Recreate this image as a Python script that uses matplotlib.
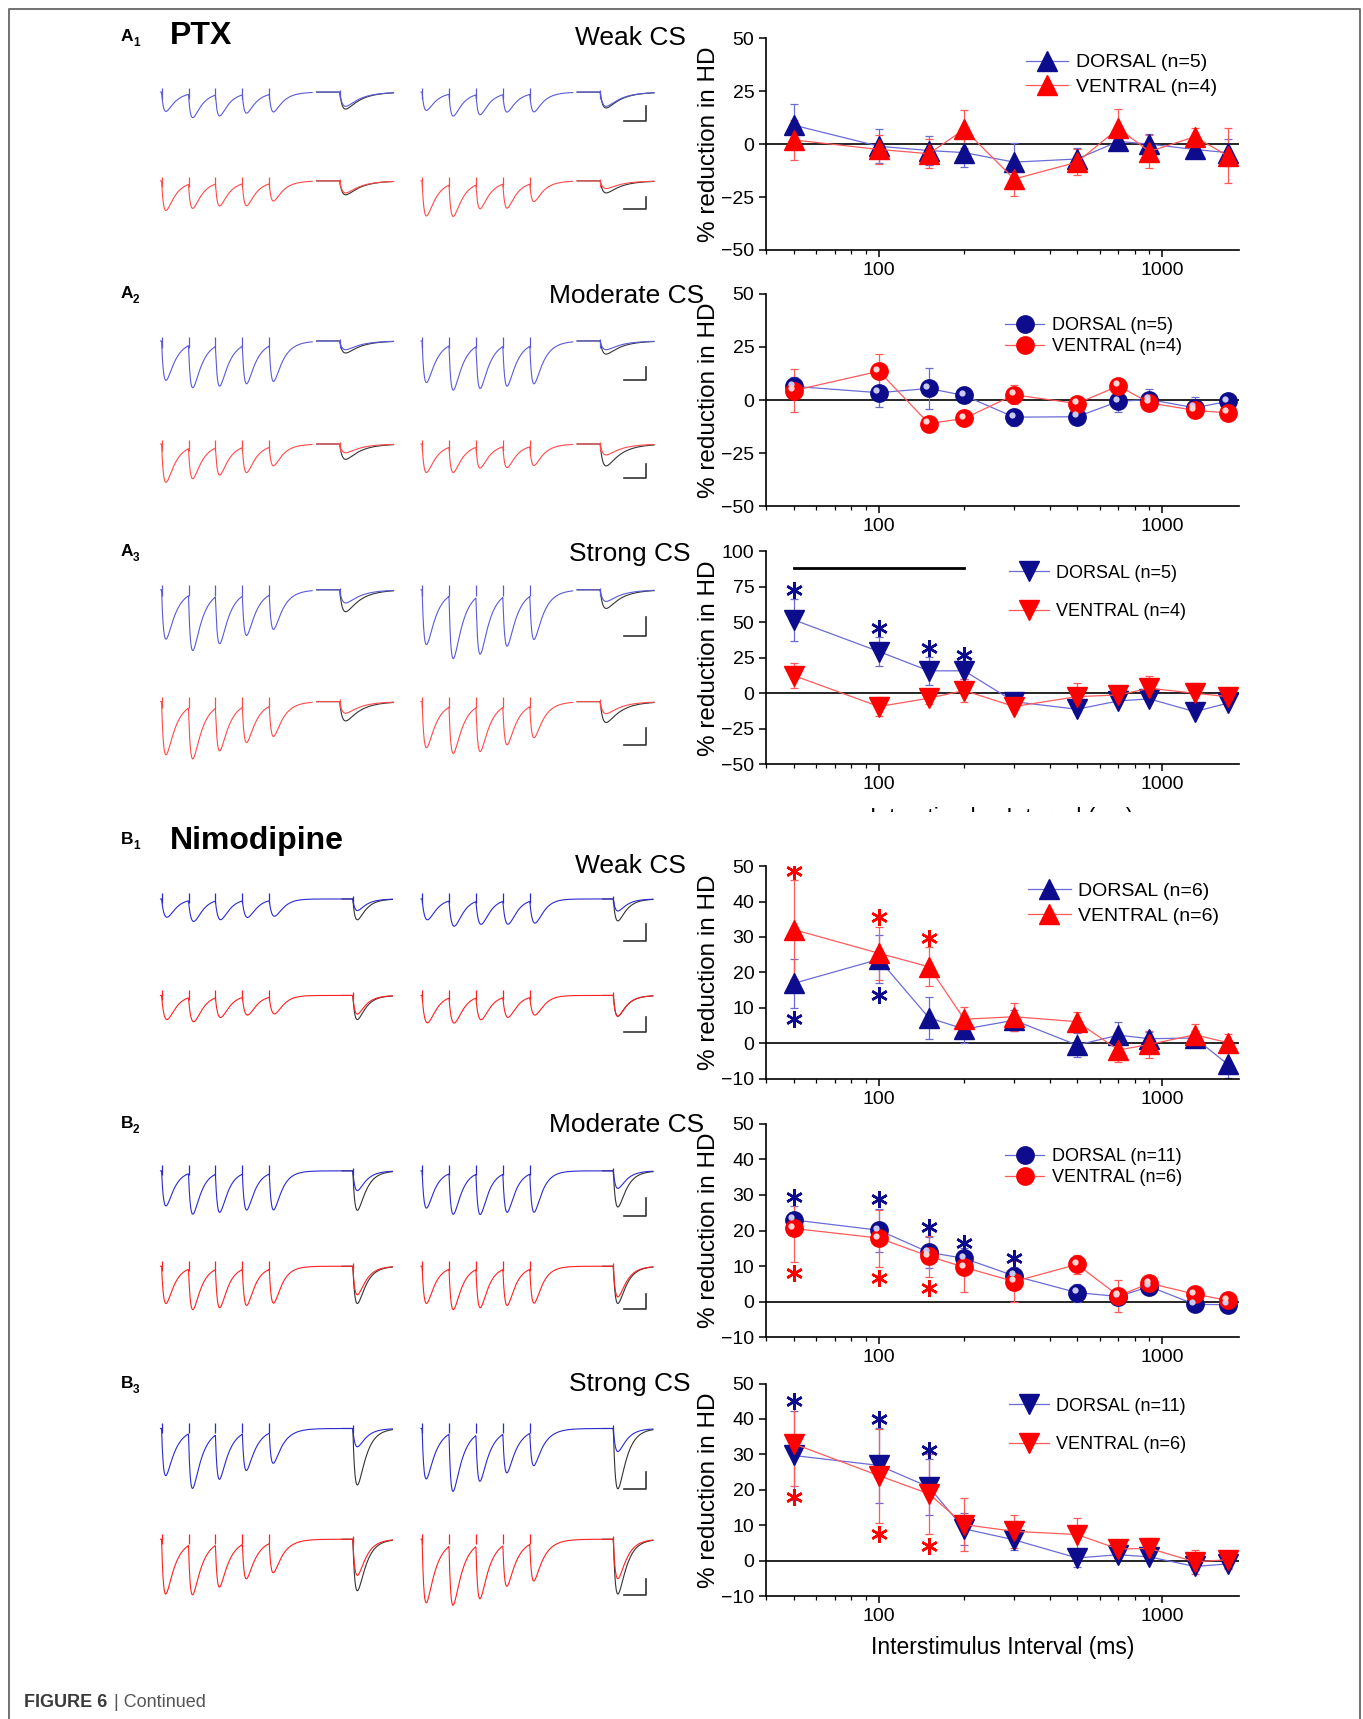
import numpy as np
import matplotlib
matplotlib.use("Agg")
import matplotlib.pyplot as plt
from matplotlib.transforms import offset_copy
from matplotlib.patches import Rectangle

plt.rcParams['font.family'] = ['Liberation Sans', 'DejaVu Sans']

# ---------------- data ----------------
isi = [50, 100, 150, 200, 300, 500, 700, 900, 1300, 1700]

# A1  PTX weak CS
a1_d = [9, -1, -3, -4, -8.5, -7, 1.3, 0, -2.5, -4]
a1_d_err = [10, 8, 7, 7, 9, 5, 4, 5, 4, 6.5]
a1_v = [2, -2.5, -4.5, 7, -16.5, -8.5, 7.5, -3.5, 3.5, -5.5]
a1_v_err = [9.5, 7, 7, 9, 8, 6, 9, 8, 4, 13]

# A2  PTX moderate CS
a2_d = [6.5, 3.5, 5.5, 2.2, -8, -7.8, -0.6, 0.3, -3.6, -0.6]
a2_d_err = [4.5, 6.5, 9.5, 2, 4, 3, 5, 5, 5, 3]
a2_v = [4.5, 13.6, -11, -8.6, 2.5, -1.6, 6.7, -1.3, -4.8, -6]
a2_v_err = [10, 8, 2, 2, 4.5, 3, 3, 3, 3, 2]

# A3  PTX strong CS
a3_d = [51.8, 29.4, 15.8, 15.8, -6, -11.3, -5.4, -4, -13, -7]
a3_d_err = [15, 10, 10, 6, 3, 2, 2, 2, 2, 2]
a3_v = [12.5, -9.4, -3.5, 1.9, -9.4, -2.4, -1.2, 3.5, 0, -2.4]
a3_v_err = [8.5, 6.5, 4, 8, 2, 9.5, 2, 8.5, 7, 2]
a3_star_d_x = [50, 100, 150, 200]
a3_star_d_y = [73, 46, 32, 27]
a3_bar_x = [50, 200]
a3_bar_y = 88

# B1  nimodipine weak CS
b1_d = [16.9, 23.7, 7.2, 4, 6.5, -0.5, 2.3, 1.3, 1.5, -5.9]
b1_d_err = [6.8, 6.8, 6, 4, 3, 3.5, 3.7, 2, 2, 4]
b1_v = [32.1, 25.4, 21.6, 6.8, 7.5, 6.1, -1.9, -0.3, 2.4, 0.2]
b1_v_err = [14, 7.5, 5.5, 3.5, 4, 2.8, 3.5, 3.8, 3, 2.5]
b1_star_d_x = [50, 100]
b1_star_d_y = [6.8, 13.5]
b1_star_v_x = [50, 100, 150]
b1_star_v_y = [48.6, 35.7, 29.8]

# B2  nimodipine moderate CS
b2_d = [23, 20.1, 13.9, 12.2, 7.3, 2.6, 1.5, 4.3, -0.7, -0.8]
b2_d_err = [4, 6, 4.3, 3, 2.5, 2.5, 2.5, 1, 1, 1]
b2_v = [20.6, 17.9, 12.8, 9.7, 5.7, 10.5, 1.7, 5.2, 2.2, 0.4]
b2_v_err = [9.5, 8, 5.7, 7, 5.7, 2.7, 4.5, 1, 1, 1]
b2_star_d_x = [50, 100, 150, 200, 300]
b2_star_d_y = [29.5, 28.8, 21, 16.6, 12.3]
b2_star_v_x = [50, 100, 150]
b2_star_v_y = [8.1, 6.7, 3.9]

# B3  nimodipine strong CS
b3_d = [29.7, 26.9, 20.8, 9, 5.9, 0.8, 1.7, 1.1, -1.6, -0.9]
b3_d_err = [12.5, 10.5, 8, 4.5, 3, 2.5, 1, 1, 1, 1]
b3_v = [33, 24, 18.9, 10.2, 8.3, 7.4, 3.3, 3.5, -0.3, 0.3]
b3_v_err = [12, 13.3, 11.3, 7.5, 4.6, 4.7, 2.6, 3, 3.3, 2.5]
b3_star_d_x = [50, 100, 150]
b3_star_d_y = [45, 40, 31.3]
b3_star_v_x = [50, 100, 150]
b3_star_v_y = [18, 7.5, 4.2]

# example traces: trough depths of the 5 train responses, then (test, control)
# order: blue left, blue right, red left, red right
a1_train = [[17.6, 22, 20, 17.6, 16.7], [16.7, 20.6, 19, 16.7, 16.7],
            [27, 23, 21, 21, 16.7], [32, 30, 23, 23, 17]]
a1_test = [[13, 15.5], [13, 14.5], [11, 12.7], [7, 11]]
a2_train = [[36, 40, 38, 36, 34], [38, 42, 40, 38, 36],
            [35, 29, 26, 24, 18], [26, 24, 20, 20, 18]]
a2_test = [[8, 11], [8, 12], [8, 14], [10, 20]]
a3_train = [[45, 52, 45, 38, 33], [50, 59, 54, 47, 41.5],
            [48.5, 48.5, 41, 34, 29], [42, 44, 42, 36, 30]]
a3_test = [[12, 20], [10.6, 17], [10.6, 17.6], [11, 19]]
b1_train = [[16.7, 19.7, 18, 16, 15], [19, 24, 22, 22, 21],
            [22, 23, 19, 17, 16], [25, 24, 21, 19, 17]]
b1_test = [[10.6, 19], [11, 20], [17, 22], [19, 19]]
b2_train = [[32, 38, 36, 34, 34], [34, 38, 38, 36, 36],
            [34, 38, 36, 34, 32], [34, 38, 36, 34, 32]]
b2_test = [[18, 36], [16, 33], [26, 34], [28, 34]]
b3_train = [[43, 51.5, 42.4, 35, 29], [46, 54, 44, 37, 31],
            [50, 47, 40, 33, 28], [58, 56, 50, 39, 35]]
b3_test = [[16.7, 51.5], [21, 55], [33, 47], [36, 50]]

# ---------------- layout (reference pixel frame) ----------------
W, H = 1240.0, 1568.0
fig = plt.figure(figsize=(13.63, 17.19), dpi=100)
bg = fig.add_axes([0, 0, 1, 1])
bg.set_xlim(0, W)
bg.set_ylim(H, 0)
bg.axis('off')

BLUE_MK = '#0c0c8c'
BLUE_LN = '#6b6bd6'
RED_MK = '#ff0000'
RED_LN = '#ff5a5a'

# outer frame (open at bottom)
bg.plot([8, 8, 1237, 1237], [H, 8, 8, H], color='#666666', lw=1.3)


def kern(s, r, d):
    s = np.clip(s, 0, None)
    k = np.exp(-s / d) - np.exp(-s / r)
    g = np.linspace(0, 80, 4000)
    return k / (np.exp(-g / d) - np.exp(-g / r)).max()


def draw_train_A(x0, base, depths, test, col):
    # train segment
    pulses = x0 + 24.5 * np.arange(5)
    t = np.linspace(x0 - 1, x0 + 137, 700)
    v = np.full_like(t, base)
    for p, dp in zip(pulses, depths):
        v += dp * kern(t - p, 2.2, 8.5)
    bg.plot(t, v, color=col, lw=0.8)
    bg.vlines(pulses, base - 4, base + 6, color=col, lw=0.9)
    # test segment
    ts = np.linspace(x0 + 141, x0 + 211, 400)
    ta = x0 + 162
    bg.plot(ts, base + test[1] * kern(ts - ta, 2.8, 13), color='#333333', lw=0.8)
    bg.plot(ts, base + test[0] * kern(ts - ta, 2.8, 13), color=col, lw=0.8)
    bg.vlines([ta], base - 2, base + 6, color=col, lw=0.9)


def draw_train_B(x0, base, depths, test, col, r, d):
    pulses = x0 + 24.5 * np.arange(5)
    ta = x0 + 174
    t = np.linspace(x0 - 1, x0 + 210, 1000)
    v = np.full_like(t, base)
    for p, dp in zip(pulses, depths):
        v += dp * kern(t - p, r, d)
    tb = t[t > ta - 10]
    bg.plot(tb, base + test[1] * kern(tb - ta, 2.5, 7.5), color='#333333', lw=0.8)
    v += test[0] * kern(t - ta, 2.5, 7.5)
    bg.plot(t, v, color=col, lw=0.8)
    bg.vlines(pulses, base - 5, base + 4, color=col, lw=0.9)
    bg.vlines([ta], base - 3, base + 4, color=col, lw=0.9)


def scale_bar(x, y0, y1, w):
    bg.plot([x - w, x, x], [y1, y1, y0], color='#333333', lw=1.2)


trace_sets = [
    (a1_train, a1_test, 84, 165, 'A', (97, 110), (180, 191)),
    (a2_train, a2_test, 311, 405, 'A', (335, 347), (423, 436)),
    (a3_train, a3_test, 538, 640, 'A', (563, 580), (664, 680)),
    (b1_train, b1_test, 820, 908, 'B1', (843, 858), (928, 941)),
    (b2_train, b2_test, 1068, 1155, 'B2', (1093, 1109), (1180, 1194)),
    (b3_train, b3_test, 1303, 1404, 'B3', (1343, 1358), (1440, 1455)),
]
kin = {'B1': (4.0, 6.0), 'B2': (2.5, 7.0), 'B3': (2.0, 8.5)}
for trains, tests, yb, yr, kind, sb1, sb2 in trace_sets:
    for i, (x0, base, col) in enumerate([(147, yb, '#5a5ad8'), (384, yb, '#5a5ad8'),
                                          (147, yr, '#ff4a4a'), (384, yr, '#ff4a4a')]):
        if kind == 'A':
            draw_train_A(x0, base, trains[i], tests[i], col)
        else:
            c = '#2a2ad0' if i < 2 else '#ff2020'
            draw_train_B(x0, base, trains[i], tests[i], c, *kin[kind])
    scale_bar(588, sb1[0], sb1[1], 20)
    scale_bar(588, sb2[0], sb2[1], 20)

# panel labels and titles
for let, sub, y in [('A', '1', 33), ('A', '2', 268), ('A', '3', 503),
                    ('B', '1', 766), ('B', '2', 1025), ('B', '3', 1262)]:
    bg.text(110, y, let, fontsize=12.5, fontweight='bold', ha='left', va='center')
    bg.text(121, y + 6, sub, fontsize=8.5, fontweight='bold', ha='left', va='center')
bg.text(155, 33, 'PTX', fontsize=23, fontweight='bold', va='center')
bg.text(155, 767, 'Nimodipine', fontsize=23, fontweight='bold', va='center')
for name, x, y in [('Weak CS', 624, 35), ('Moderate CS', 641, 270), ('Strong CS', 628, 505),
                   ('Weak CS', 624, 790), ('Moderate CS', 641, 1026), ('Strong CS', 628, 1262)]:
    bg.text(x, y, name, fontsize=19, ha='right', va='center')

# axis title under A3, cut off by the panel below (only the top shows)
bg.text(911, 736, 'Interstimulus Interval (ms)', fontsize=16.5, ha='center', va='top', zorder=1)
bg.add_patch(Rectangle((700, 740.5), 500, 30, facecolor='white', edgecolor='none', zorder=2))

bg.text(22, 1553, 'FIGURE 6', fontsize=13, fontweight='bold', color='#3a3a3a', va='center')
bg.text(104, 1553, '| Continued', fontsize=13, color='#555555', va='center')


# ---------------- plots ----------------
def make_ax(top, bottom, ylim, yticks):
    ax = fig.add_axes([697 / W, 1 - bottom / H, (1127 - 697) / W, (bottom - top) / H])
    ax.set_facecolor('none')
    ax.set_xscale('log')
    ax.set_xlim(40, 1860)
    ax.set_ylim(*ylim)
    ax.set_yticks(yticks)
    ax.set_xticks([100, 1000])
    ax.set_xticklabels(['100', '1000'])
    for s in ['top', 'right']:
        ax.spines[s].set_visible(False)
    for s in ['left', 'bottom']:
        ax.spines[s].set_linewidth(1.2)
    ax.tick_params(which='major', direction='out', length=5, width=1.1, labelsize=14)
    ax.tick_params(which='minor', direction='out', length=3, width=0.9)
    ax.axhline(0, color='black', lw=1.2, zorder=1)
    ax.set_ylabel('% reduction in HD', fontsize=17.5, labelpad=1)
    return ax


def series(ax, y, err, marker, mk, ln, label, ms=15):
    ax.errorbar(isi, y, yerr=err, fmt='none', ecolor=ln, elinewidth=0.9,
                capsize=3, capthick=0.9, zorder=2)
    h, = ax.plot(isi, y, marker=marker, color=ln, mfc=mk, mec=mk, ms=ms, lw=0.9,
                 label=label, zorder=3)
    return h


def sphere_series(ax, y, err, mk, hi, ln, label):
    h = series(ax, y, err, 'o', mk, ln, label, ms=12.5)
    tr = offset_copy(ax.transData, fig=fig, x=-1.8, y=1.8, units='points')
    ax.plot(isi, y, 'o', ms=4.5, color=hi, mec='none', transform=tr, zorder=4)
    return h


def stars(ax, xs, ys, col):
    ax.plot(xs, ys, ls='none', marker=(6, 2, 0), ms=12, mew=1.8, color=col, zorder=5)


def legend(ax, handles, labels, x, y, fs, spacing):
    ax.legend(handles, labels, loc='upper left', bbox_to_anchor=(x / W, 1 - y / H),
              bbox_transform=fig.transFigure, frameon=False, fontsize=fs,
              handlelength=2.2, handletextpad=0.4, borderpad=0, borderaxespad=0,
              labelspacing=spacing)


ticks_a = [-50, -25, 0, 25, 50]
ticks_b = [-10, 0, 10, 20, 30, 40, 50]

ax1 = make_ax(35, 228, (-50, 50), ticks_a)
h1 = series(ax1, a1_d, a1_d_err, '^', BLUE_MK, BLUE_LN, 'DORSAL (n=5)')
h2 = series(ax1, a1_v, a1_v_err, '^', RED_MK, RED_LN, 'VENTRAL (n=4)')
legend(ax1, [h1, h2], ['DORSAL (n=5)', 'VENTRAL (n=4)'], 933, 49, 14, 0.35)

ax2 = make_ax(268, 462, (-50, 50), ticks_a)
h1 = sphere_series(ax2, a2_d, a2_d_err, BLUE_MK, '#c8c8f0', BLUE_LN, 'DORSAL (n=5)')
h2 = sphere_series(ax2, a2_v, a2_v_err, RED_MK, '#ffd6d6', RED_LN, 'VENTRAL (n=4)')
legend(ax2, [h1, h2], ['DORSAL (n=5)', 'VENTRAL (n=4)'], 914, 289, 13, 0.25)

ax3 = make_ax(503, 697, (-50, 100), [-50, -25, 0, 25, 50, 75, 100])
ax3.plot(a3_bar_x, [a3_bar_y, a3_bar_y], color='black', lw=2)
h1 = series(ax3, a3_d, a3_d_err, 'v', BLUE_MK, BLUE_LN, 'DORSAL (n=5)')
h2 = series(ax3, a3_v, a3_v_err, 'v', RED_MK, RED_LN, 'VENTRAL (n=4)')
stars(ax3, a3_star_d_x, a3_star_d_y, BLUE_MK)
legend(ax3, [h1, h2], ['DORSAL (n=5)', 'VENTRAL (n=4)'], 918, 515, 13, 1.2)

bx1 = make_ax(790, 984, (-10, 50), ticks_b)
h1 = series(bx1, b1_d, b1_d_err, '^', BLUE_MK, BLUE_LN, 'DORSAL (n=6)')
h2 = series(bx1, b1_v, b1_v_err, '^', RED_MK, RED_LN, 'VENTRAL (n=6)')
stars(bx1, b1_star_d_x, b1_star_d_y, BLUE_MK)
stars(bx1, b1_star_v_x, b1_star_v_y, RED_MK)
legend(bx1, [h1, h2], ['DORSAL (n=6)', 'VENTRAL (n=6)'], 935, 805, 14, 0.35)

bx2 = make_ax(1025, 1220, (-10, 50), ticks_b)
h1 = sphere_series(bx2, b2_d, b2_d_err, BLUE_MK, '#c8c8f0', BLUE_LN, 'DORSAL (n=11)')
h2 = sphere_series(bx2, b2_v, b2_v_err, RED_MK, '#ffd6d6', RED_LN, 'VENTRAL (n=6)')
stars(bx2, b2_star_d_x, b2_star_d_y, BLUE_MK)
stars(bx2, b2_star_v_x, b2_star_v_y, RED_MK)
legend(bx2, [h1, h2], ['DORSAL (n=11)', 'VENTRAL (n=6)'], 914, 1047, 13, 0.25)

bx3 = make_ax(1262, 1456, (-10, 50), ticks_b)
h1 = series(bx3, b3_d, b3_d_err, 'v', BLUE_MK, BLUE_LN, 'DORSAL (n=11)')
h2 = series(bx3, b3_v, b3_v_err, 'v', RED_MK, RED_LN, 'VENTRAL (n=6)')
stars(bx3, b3_star_d_x, b3_star_d_y, BLUE_MK)
stars(bx3, b3_star_v_x, b3_star_v_y, RED_MK)
legend(bx3, [h1, h2], ['DORSAL (n=11)', 'VENTRAL (n=6)'], 918, 1275, 13, 1.2)
bx3.set_xlabel('Interstimulus Interval (ms)', fontsize=16.5, labelpad=8)

fig.savefig('out.png', dpi=100)
